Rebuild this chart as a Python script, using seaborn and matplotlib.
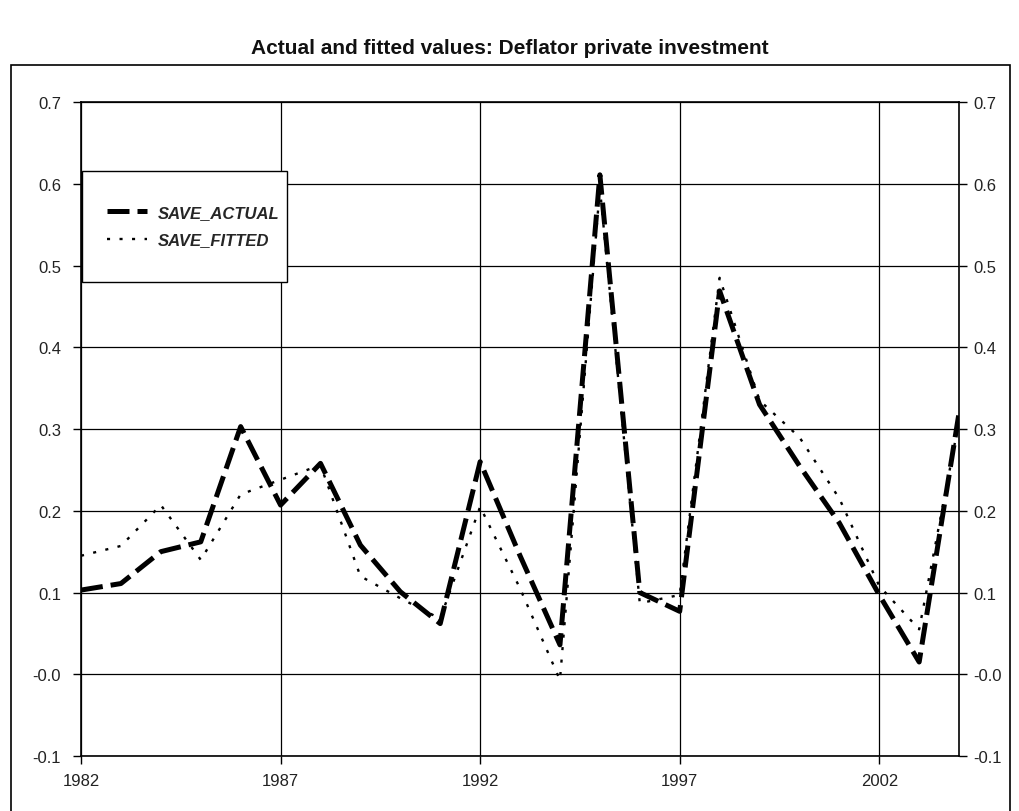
import matplotlib
matplotlib.use("Agg")
import matplotlib.pyplot as plt
import matplotlib.transforms as mtransforms
import pandas as pd
import seaborn as sns
from matplotlib.patches import Rectangle


YEARS = list(range(1982, 2005))
SAVE_ACTUAL = [0.103, 0.111, 0.150, 0.162, 0.303, 0.207, 0.258, 0.158, 0.101, 0.062,
               0.260, 0.145, 0.036, 0.611, 0.100, 0.077, 0.469, 0.330, 0.255, 0.185,
               0.097, 0.015, 0.320]
SAVE_FITTED = [0.145, 0.157, 0.207, 0.140, 0.220, 0.238, 0.256, 0.120, 0.093, 0.068,
               0.205, 0.105, -0.007, 0.595, 0.087, 0.097, 0.485, 0.335, 0.290, 0.215,
               0.108, 0.055, 0.310]

X_TICKS = [1982, 1987, 1992, 1997, 2002]
Y_TICKS = [-0.1, 0.0, 0.1, 0.2, 0.3, 0.4, 0.5, 0.6, 0.7]
Y_TICK_LABELS = ["-0.1", "-0.0", "0.1", "0.2", "0.3", "0.4", "0.5", "0.6", "0.7"]
TITLE = "Actual and fitted values: Deflator private investment"


def main() -> None:
    sns.set_theme(style="white")
    plt.rcParams["font.family"] = ["Liberation Sans", "DejaVu Sans"]

    df = pd.DataFrame({"year": YEARS, "actual": SAVE_ACTUAL, "fitted": SAVE_FITTED})

    fig = plt.figure(figsize=(10.19, 8.12), dpi=100)
    ax = fig.add_axes([0.0795, 0.0677, 0.8617, 0.8054])

    # outer frame round the plot area
    fig.patches.append(Rectangle((0.0108, -0.01), 0.980, 0.9287, transform=fig.transFigure,
                                 fill=False, edgecolor="black", linewidth=1.2))

    ax.set_xlim(1982, 2004)
    ax.set_ylim(-0.1, 0.7)
    ax.set_xticks(X_TICKS)
    ax.set_yticks(Y_TICKS)
    ax.set_yticklabels(Y_TICK_LABELS)
    ax.grid(True, color="black", linewidth=0.9)
    ax.set_axisbelow(True)

    sns.lineplot(data=df, x="year", y="actual", ax=ax, color="black", linewidth=3.6,
                 dashes=False, label="SAVE_ACTUAL")
    sns.lineplot(data=df, x="year", y="fitted", ax=ax, color="black", linewidth=1.7,
                 dashes=False, label="SAVE_FITTED")
    ax.lines[-2].set_dashes((4.4, 1.6))
    ax.lines[-1].set_dashes((1.3, 4.0))

    ax.set_xlabel("")
    ax.set_ylabel("")
    for spine in ax.spines.values():
        spine.set_color("black")
        spine.set_linewidth(1.2)
    ax.tick_params(axis="both", direction="out", length=6, width=1, color="black",
                   labelsize=12, labelcolor="#222222", bottom=True, left=True)
    ax.tick_params(axis="y", right=True, labelright=True, pad=4)
    ax.tick_params(axis="x", pad=6)

    # left labels sit a little further from the axis than the right ones
    shift = mtransforms.ScaledTranslation(-6 / 100, 0, fig.dpi_scale_trans)
    for tick in ax.yaxis.get_major_ticks():
        tick.label1.set_transform(tick.label1.get_transform() + shift)

    leg = ax.legend(loc="center left", bbox_to_anchor=(0.0296, 0.810), borderaxespad=0,
                    borderpad=0, frameon=False, handlelength=2.4, handletextpad=0.65,
                    labelspacing=0.75,
                    prop={"weight": "bold", "style": "italic", "size": 12})
    ax.add_patch(Rectangle((0.0011, 0.7248), 0.2335, 0.1697, transform=ax.transAxes,
                           fill=True, facecolor="white", edgecolor="black",
                           linewidth=1.0, zorder=4.9))
    leg.set_zorder(5)

    fig.suptitle(TITLE, x=0.5, y=0.952, fontsize=15, fontweight="bold", color="#111111")

    fig.savefig("out.png", dpi=100)
    plt.close(fig)


if __name__ == "__main__":
    main()
